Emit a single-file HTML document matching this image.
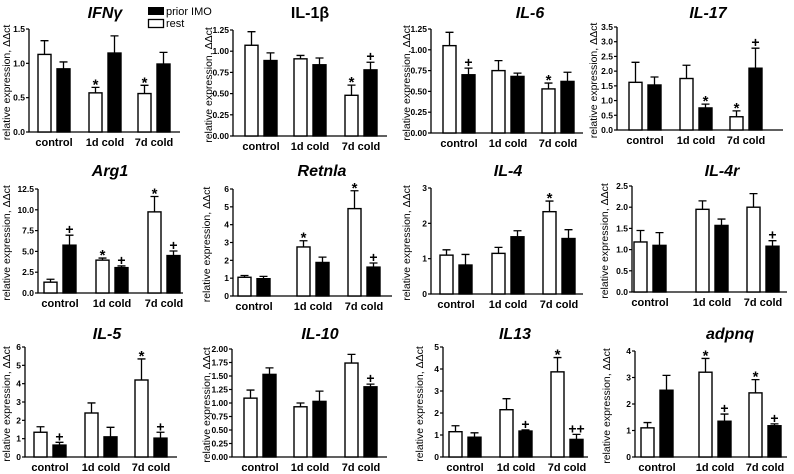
<!DOCTYPE html>
<html><head><meta charset="utf-8"><style>
html,body{margin:0;padding:0;background:#fff;}
svg{display:block;font-family:"Liberation Sans",Arial,sans-serif;}
</style></head><body>
<svg id="fig" width="794" height="474" viewBox="0 0 794 474" xmlns="http://www.w3.org/2000/svg">
  <g>
    <rect x="148" y="7" width="16" height="8" fill="#000"/>
    <text x="166" y="15" font-size="11">prior IMO</text>
    <rect x="148.5" y="19.5" width="15" height="8" fill="#fff" stroke="#000" stroke-width="1.3"/>
    <text x="166" y="27" font-size="11">rest</text>
  </g>
</svg>
<script>
const categories = ["control", "1d cold", "7d cold"];
const titles = ["IFNγ","IL-1β","IL-6","IL-17","Arg1","Retnla","IL-4","IL-4r","IL-5","IL-10","IL13","adpnq"];
const restMeans = [[1.13,0.57,0.56],[1.07,0.91,0.48],[1.05,0.75,0.53],[1.62,1.75,0.45],[1.3,3.95,9.75],[1.05,2.75,4.9],[1.1,1.15,2.33],[1.18,1.95,2.0],[1.35,2.4,4.2],[1.09,0.93,1.74],[1.15,2.15,3.87],[1.1,3.2,2.42]];
const restErrTop = [[1.33,0.65,0.68],[1.23,0.95,0.60],[1.21,0.87,0.60],[2.30,2.20,0.65],[1.65,4.2,11.6],[1.15,3.1,5.9],[1.25,1.32,2.63],[1.45,2.15,2.32],[1.65,2.95,5.35],[1.24,1.0,1.9],[1.42,2.65,4.52],[1.3,3.72,2.92]];
const imoMeans = [[0.92,1.15,0.99],[0.89,0.84,0.78],[0.70,0.68,0.62],[1.53,0.75,2.10],[5.75,3.05,4.5],[0.97,1.88,1.62],[0.82,1.62,1.57],[1.1,1.57,1.08],[0.65,1.1,1.03],[1.53,1.03,1.3],[0.9,1.18,0.8],[2.52,1.35,1.18]];
const imoErrTop = [[1.02,1.40,1.16],[0.98,0.92,0.87],[0.78,0.72,0.73],[1.80,0.88,2.78],[6.95,3.25,5.05],[1.1,2.18,1.85],[1.12,1.79,1.82],[1.4,1.72,1.21],[0.8,1.62,1.35],[1.65,1.22,1.35],[1.1,1.23,1.03],[3.08,1.62,1.25]];
const restMarks = [["","*","*"],["","","*"],["","","*"],["","","*"],["","*","*"],["","*","*"],["","","*"],["","",""],["","","*"],["","",""],["","","*"],["","*","*"]];
const imoMarks = [["","",""],["","","+"],["+","",""],["","*","+"],["+","+","+"],["","","+"],["","",""],["","","+"],["+","","+"],["","","+"],["","+","++"],["","+","+"]];
const yMaxes = [1.5,1.25,1.25,3.5,12.5,6,3,2.5,6,2,5,4];
const ySteps = [0.5,0.25,0.25,0.5,2.5,1,1,0.5,1,0.25,1,1];
const yDecimals = [1,2,2,1,1,0,0,1,0,2,0,0];

// layout (pixels): axisX, endX, topY, bottomY, group centers, title x, title y, italic, y-title x
const layout = [
 [29,180,29,132,[54,105,154],105,18,true,10],
 [233,387,30,136,[261,310,361],310,18,false,212],
 [431,583,29,133,[459,508,558],530,18,true,410],
 [617,783,27,130,[645,696,746],708,18,true,597],
 [38,183,189,293,[60,112,164],110,176,true,10],
 [233,392,189,296,[254,313,364],322,176,true,210],
 [431,583,188,294,[456,508,559],508,176,true,410],
 [632,787,186,292,[650,712,763],722,176,true,608],
 [25,177,347,457,[50,101,151],107,339,true,10],
 [232,387,349,457,[260,310,361],320,339,true,210],
 [443,588,347,457,[465,516,567],515,339,true,423],
 [635,787,351,457,[657,715,765],730,339,true,610]
];
const NS = "http://www.w3.org/2000/svg";
const svg = document.getElementById("fig");
function mk(tag, attrs, parent){const e=document.createElementNS(NS,tag);for(const k in attrs)e.setAttribute(k,attrs[k]);parent.appendChild(e);return e;}
const slug = s => s.toLowerCase().replace(/[^a-z0-9]+/g,"-").replace(/^-|-$/g,"");

for(let p=0;p<titles.length;p++){
  const [ax,ex,ty,by,centers,tx,tyy,ital,ylx]=layout[p];
  const ymax=yMaxes[p];
  const y = v => by - (v/ymax)*(by-ty);
  const g = mk("g",{},svg);
  
  
  const t = mk("text",{x:tx,y:tyy,"font-size":"16","font-weight":"bold","font-style":ital?"italic":"normal","text-anchor":"middle"},g);
  t.textContent=titles[p];
  
  
  const yl = mk("text",{x:0,y:0,"font-size":"10.5","text-anchor":"middle",transform:`translate(${ylx},${(ty+by)/2+2}) rotate(-90)`},g);
  yl.textContent="relative expression, ΔΔct";
  
  
  const axis = mk("path",{d:`M${ax},${ty} L${ax},${by} L${ex},${by}`,fill:"none",stroke:"#000","stroke-width":"1.3"},g);
  
  
  const n = Math.round(ymax/ySteps[p]);
  for(let i=0;i<=n;i++){
    const v=i*ySteps[p], yy=y(v);
    const tk=mk("line",{x1:ax-3,x2:ax,y1:yy,y2:yy,stroke:"#000","stroke-width":"1.2"},g);
    
    
    const tl=mk("text",{x:ax-4,y:yy+3,"font-size":"8.5","font-weight":"bold","text-anchor":"end"},g);
    tl.textContent=v.toFixed(yDecimals[p]);
    
    
  }
  for(let c=0;c<categories.length;c++){
    const cx=centers[c];
    const cl=mk("text",{x:cx,y:by+14,"font-size":"11","font-weight":"bold","text-anchor":"middle"},g);
    cl.textContent=categories[c];
    
    
    const series=[[restMeans[p][c],restErrTop[p][c],restMarks[p][c],cx-16,"#fff","rest"],[imoMeans[p][c],imoErrTop[p][c],imoMarks[p][c],cx+3,"#000","prior-imo"]];
    for(const [m,e,mark,bx,fill,nm] of series){
      const bw=13, mid=bx+bw/2;
      const el=mk("path",{d:`M${mid},${y(m)} L${mid},${y(e)} M${mid-4},${y(e)} L${mid+4},${y(e)}`,stroke:"#000","stroke-width":"1.3",fill:"none"},g);
      
      
      const r=mk("rect",{x:bx,y:y(m),width:bw,height:by-y(m),fill:fill,stroke:"#000","stroke-width":"1.4"},g);
      
      
      if(mark){
        const mt=mk("text",{x:mid,y:y(e)-(mark[0]==="*"?-2:1),"font-size":mark[0]==="*"?"15":"14","font-weight":"bold","text-anchor":"middle"},g);
        mt.textContent=mark;
        
        
      }
    }
  }
}
</script>
</body></html>
